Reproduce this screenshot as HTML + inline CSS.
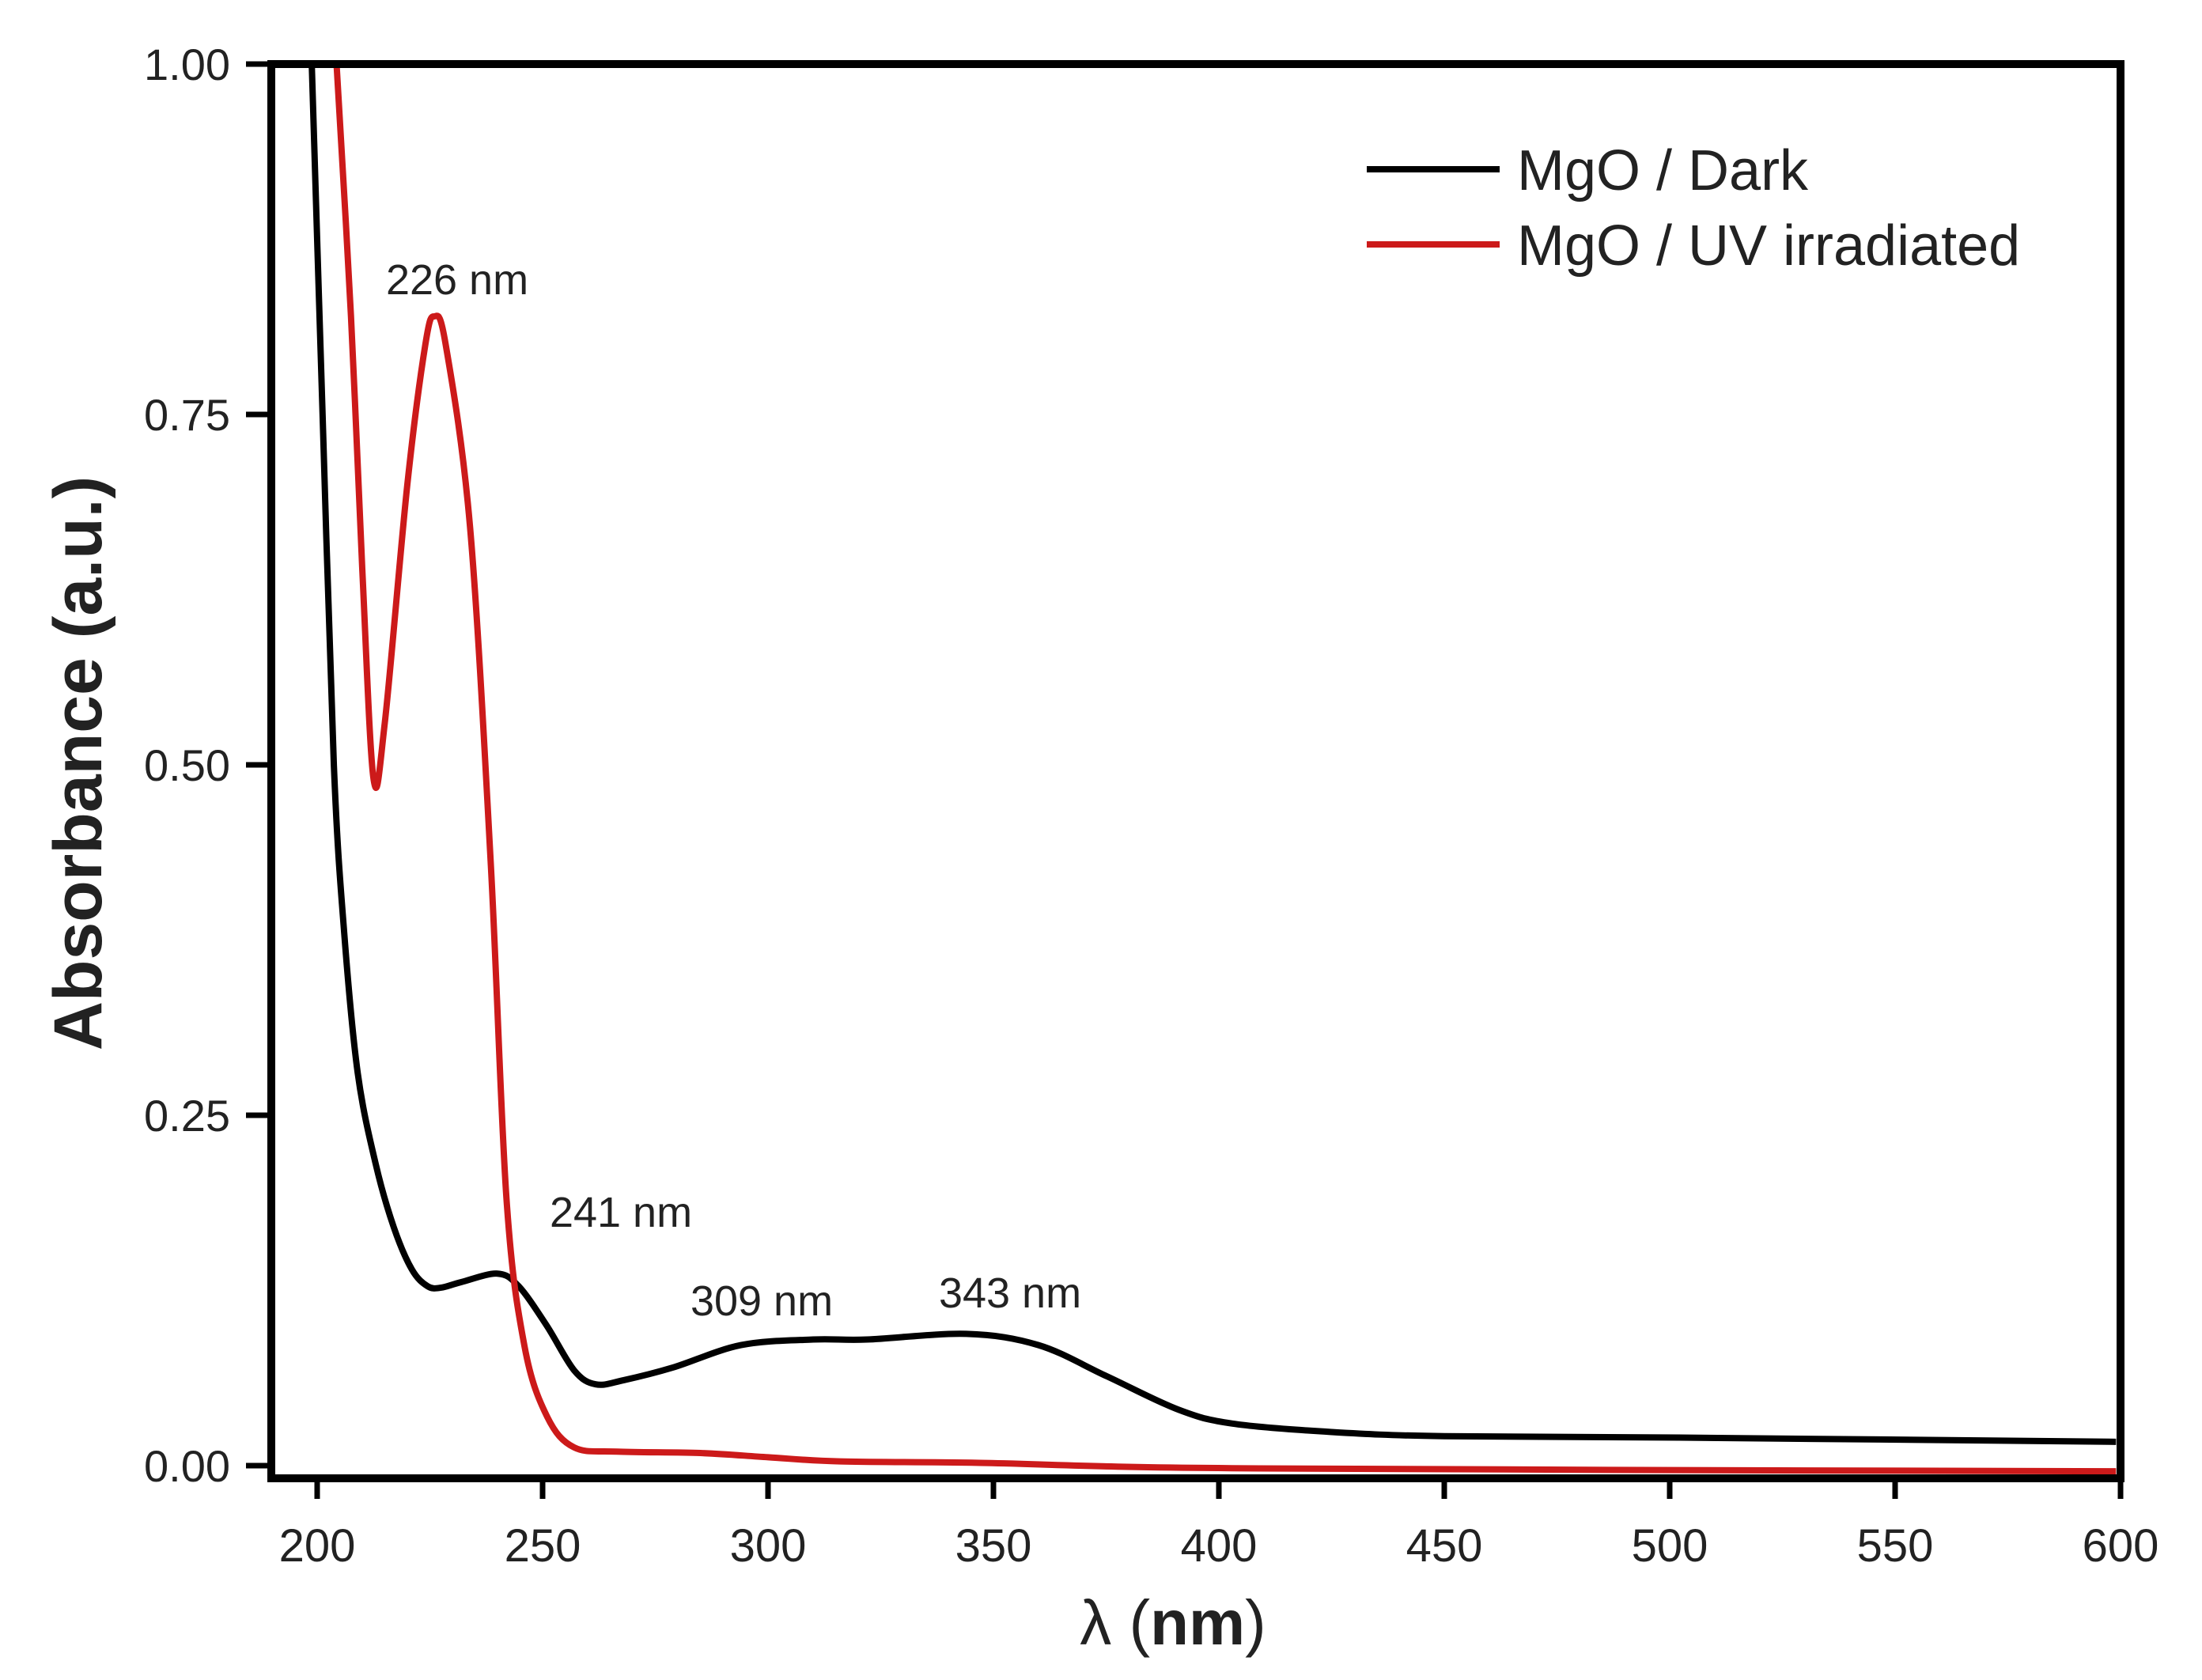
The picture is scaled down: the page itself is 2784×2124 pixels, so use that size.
<!DOCTYPE html>
<html><head><meta charset="utf-8"><style>
html,body{margin:0;padding:0;background:#fff;}
svg{display:block;}
text{font-family:"Liberation Sans",Arial,sans-serif;fill:#222;}
</style></head><body>
<svg id="chart" width="2784" height="2124" viewBox="0 0 2784 2124">
<defs><clipPath id="plotclip"><rect x="343" y="81" width="2338" height="1788"/></clipPath></defs>
<g id="curves" clip-path="url(#plotclip)"></g>
<g id="axes"></g>
<g id="labels"></g>
</svg>
<script>
const xTicks = [200,250,300,350,400,450,500,550,600];
const yTicks = [0,0.25,0.5,0.75,1.0];
const yTickLabels = ["0.00","0.25","0.50","0.75","1.00"];
const darkWl = [198.8,201.2,203.7,206,209,213,217,221,224.5,227.5,232,240,244.7,250.9,257,261.8,268,278.9,294,310,322,344,360,375,391,403,425,450,502,599];
const darkAbs = [1.00,0.75,0.50,0.38,0.28,0.215,0.17,0.14,0.128,0.127,0.131,0.137,0.128,0.10,0.068,0.058,0.061,0.07,0.086,0.09,0.09,0.094,0.086,0.064,0.04,0.03,0.024,0.021,0.02,0.017];
const uvWl = [204.3,207.5,210,212.5,215,220,224,226,228.5,233.9,238.5,242,246,251,257,266.5,285,300,316,347,409,599];
const uvAbs = [1.0,0.82,0.64,0.49,0.53,0.70,0.80,0.82,0.80,0.67,0.43,0.19,0.085,0.035,0.013,0.01,0.009,0.006,0.003,0.002,-0.002,-0.004];
const annWl = [226,241,309,343];
const annText = ["226 nm","241 nm","309 nm","343 nm"];

const NS="http://www.w3.org/2000/svg";
function X(v){return 401+(v-200)*5.7;}
function Y(v){return 1853-1772*v;}
function mk(tag,attrs,parent){const e=document.createElementNS(NS,tag);for(const k in attrs)e.setAttribute(k,attrs[k]);parent.appendChild(e);return e;}
function smoothPath(xs,ys){
  const p=xs.map((x,i)=>[X(x),Y(ys[i])]);
  let d="M"+p[0][0]+","+p[0][1];
  for(let i=0;i<p.length-1;i++){
    const p0=p[i-1]||p[i],p1=p[i],p2=p[i+1],p3=p[i+2]||p2;
    const c1=[p1[0]+(p2[0]-p0[0])/6,p1[1]+(p2[1]-p0[1])/6];
    const c2=[p2[0]-(p3[0]-p1[0])/6,p2[1]-(p3[1]-p1[1])/6];
    d+=" C"+c1[0]+","+c1[1]+" "+c2[0]+","+c2[1]+" "+p2[0]+","+p2[1];
  }
  return d;
}
const curves=document.getElementById('curves');
const axes=document.getElementById('axes');
const labels=document.getElementById('labels');

const dk=mk('path',{d:smoothPath(darkWl,darkAbs),fill:'none',stroke:'#000','stroke-width':8,'stroke-linejoin':'round'},curves);


const uv=mk('path',{d:smoothPath(uvWl,uvAbs),fill:'none',stroke:'#cc1a1a','stroke-width':8,'stroke-linejoin':'round'},curves);



const frame=mk('rect',{x:343,y:81,width:2338,height:1788,fill:'none',stroke:'#000','stroke-width':10},axes);



xTicks.forEach(v=>{
  const t=mk('line',{x1:X(v),x2:X(v),y1:1869,y2:1895,stroke:'#000','stroke-width':7},axes);
  
  
  const l=mk('text',{x:X(v),y:1974,'text-anchor':'middle','font-size':58},labels);
  l.textContent=String(v);
  
  
});
yTicks.forEach((v,i)=>{
  const t=mk('line',{x1:311,x2:343,y1:Y(v),y2:Y(v),stroke:'#000','stroke-width':7},axes);
  
  
  const l=mk('text',{x:291,y:Y(v)+20,'text-anchor':'end','font-size':56},labels);
  l.textContent=yTickLabels[i];
  
  
});

const annX=[578,785,963,1277];
const annY=[372,1551,1663,1653];
annWl.forEach((w,i)=>{
  const l=mk('text',{x:annX[i],y:annY[i],'text-anchor':'middle','font-size':54},labels);
  l.textContent=annText[i];
  
  
});

const yt=mk('text',{x:0,y:0,'text-anchor':'middle','font-size':86,'font-weight':'bold',transform:'translate(128,965) rotate(-90)'},labels);
yt.textContent="Absorbance (a.u.)";



const xt=mk('text',{x:1483,y:2079,'text-anchor':'middle','font-size':80},labels);
xt.innerHTML='λ (<tspan font-weight="bold">nm</tspan>)';



const l1=mk('line',{x1:1728,x2:1896,y1:214,y2:214,stroke:'#000','stroke-width':8},labels);


const t1=mk('text',{x:1918,y:240,'font-size':72},labels);
t1.textContent="MgO / Dark";


const l2=mk('line',{x1:1728,x2:1896,y1:309,y2:309,stroke:'#cc1a1a','stroke-width':8},labels);


const t2=mk('text',{x:1918,y:335,'font-size':72},labels);
t2.textContent="MgO / UV irradiated";


</script>
</body></html>
